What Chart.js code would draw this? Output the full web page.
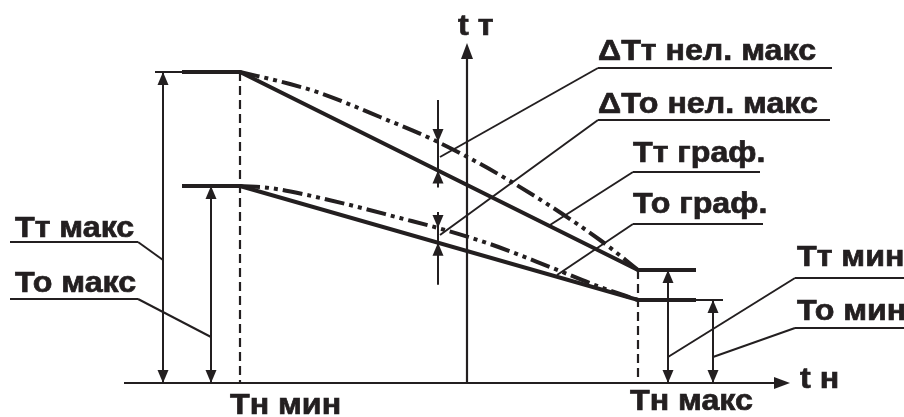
<!DOCTYPE html>
<html>
<head>
  <meta charset="utf-8">
  <title>Температурный график</title>
  <script src="https://cdn.jsdelivr.net/npm/chart.js@4.4.0/dist/chart.umd.min.js"></script>
  <style>
    body { margin: 0; background: #fff; }
    #wrap { width: 904px; height: 417px; }
  </style>
</head>
<body>
  <div id="wrap"><canvas id="graph" width="904" height="417"></canvas></div>
  <script>
    // outdoor temperature (x) and water temperatures (y), diagram units
    const tnValues = [-227, 171];          // Тн мин, Тн макс
    const tnLabels = ['Тн мин', 'Тн макс'];
    const ttValues = [311, 113];           // Тт макс, Тт мин
    const toValues = [197, 83];            // То макс, То мин
    const ttNonlinX = [-227, -177, -147, -87, -29, 43, 133, 171];
    const ttNonlinY = [311, 299, 290, 266, 241, 202, 143, 113];
    const toNonlinX = [-227, -197, -160, -117, -67, -29, 23, 83, 133, 171];
    const toNonlinY = [197, 195, 188, 178, 165, 155, 139, 116, 96, 83];
    const measureX = -29;                  // where the nonlinear deviation is measured

    // drawing layout (not data)
    const shelf = [-285, 229];
    const axisX = [-343, 323];
    const axisY = [0, 340];
    const ink = '#231f20';

    const pts = (xs, ys) => xs.map((x, i) => ({ x, y: ys[i] }));
    const lerp = (xs, ys, x) => ys[0] + (ys[1] - ys[0]) * (x - xs[0]) / (xs[1] - xs[0]);

    const labels = [
      { text: 'ΔТт нел. макс', x: 131, y: 323, u: [131, 365, 315], lead: [-27, 226], side: 0 },
      { text: 'ΔТо нел. макс', x: 131, y: 270, u: [131, 363, 263], lead: [-27, 148], side: 0 },
      { text: 'Тт граф.', x: 166, y: 221, u: [166, 293, 211], lead: [83, 158], side: 0 },
      { text: 'То граф.', x: 166, y: 170, u: [166, 296, 159], lead: [90, 108], side: 0 },
      { text: 'Тт макс', x: -452, y: 146, u: [-457, -329, 141], lead: [-304, 123], side: 1 },
      { text: 'То макс', x: -452, y: 91, u: [-457, -329, 84], lead: [-256, 46], side: 1 },
      { text: 'Тт мин', x: 330, y: 117, u: [328, 437, 105], lead: [201, 26], side: 0 },
      { text: 'То мин', x: 330, y: 63, u: [328, 437, 55], lead: [246, 26], side: 0 }
    ];
    const dims = [
      { x: -304, top: ttValues[0] },
      { x: -256, top: toValues[0] },
      { x: 201, top: ttValues[1] },
      { x: 246, top: toValues[1] }
    ];

    function head(ctx, x, y, dir, len, half) {
      ctx.beginPath();
      ctx.moveTo(x, y);
      if (dir === 'up') { ctx.lineTo(x - half, y + len); ctx.lineTo(x + half, y + len); }
      if (dir === 'down') { ctx.lineTo(x - half, y - len); ctx.lineTo(x + half, y - len); }
      if (dir === 'right') { ctx.lineTo(x - len, y - half); ctx.lineTo(x - len, y + half); }
      ctx.closePath();
      ctx.fill();
    }

    // the lettering is a bit wider and heavier than plain Arial bold
    function label(ctx, text, x, y) {
      ctx.save();
      ctx.translate(x, y);
      ctx.scale(1.11, 1);
      ctx.lineWidth = 0.7;
      ctx.fillText(text, 0, 0);
      ctx.strokeText(text, 0, 0);
      ctx.restore();
    }

    const annotations = {
      id: 'annotations',
      afterDatasetsDraw(chart) {
        const ctx = chart.ctx;
        const X = v => chart.scales.x.getPixelForValue(v);
        const Y = v => chart.scales.y.getPixelForValue(v);
        ctx.save();
        ctx.strokeStyle = ink;
        ctx.fillStyle = ink;
        ctx.lineCap = 'butt';

        // axis arrowheads
        head(ctx, X(axisX[1]), Y(0), 'right', 16, 6);
        head(ctx, X(0), Y(axisY[1]), 'up', 16, 6);

        // dimension arrows
        ctx.lineWidth = 2;
        dims.forEach(d => {
          ctx.beginPath();
          ctx.moveTo(X(d.x), Y(0));
          ctx.lineTo(X(d.x), Y(d.top));
          ctx.stroke();
          head(ctx, X(d.x), Y(d.top), 'up', 13, 5.5);
          head(ctx, X(d.x), Y(0), 'down', 13, 5.5);
        });

        // nonlinearity measurement
        const i = ttNonlinX.indexOf(measureX);
        const j = toNonlinX.indexOf(measureX);
        const pairs = [
          [ttNonlinY[i], lerp(tnValues, ttValues, measureX), 42, 17],
          [toNonlinY[j], lerp(tnValues, toValues, measureX), 16, 42]
        ];
        pairs.forEach(([hi, lo, above, below]) => {
          const x = X(measureX);
          ctx.beginPath();
          ctx.moveTo(x, Y(hi + above));
          ctx.lineTo(x, Y(lo - below));
          ctx.stroke();
          head(ctx, x, Y(hi), 'down', 13, 5.5);
          head(ctx, x, Y(lo), 'up', 13, 5.5);
        });

        // leaders, underlines and texts
        ctx.font = 'bold 29px "Liberation Sans", Arial, sans-serif';
        ctx.textBaseline = 'alphabetic';
        labels.forEach(l => {
          ctx.lineWidth = 2;
          ctx.beginPath();
          ctx.moveTo(X(l.u[0]), Y(l.u[2]));
          ctx.lineTo(X(l.u[1]), Y(l.u[2]));
          ctx.stroke();
          ctx.beginPath();
          ctx.moveTo(X(l.u[l.side]), Y(l.u[2]));
          ctx.lineTo(X(l.lead[0]), Y(l.lead[1]));
          ctx.stroke();
          label(ctx, l.text, X(l.x), Y(l.y));
        });

        // extension lines
        ctx.lineWidth = 2;
        ctx.beginPath();
        ctx.moveTo(X(-312), Y(ttValues[0]));
        ctx.lineTo(X(shelf[0]), Y(ttValues[0]));
        ctx.moveTo(X(shelf[1]), Y(toValues[1]));
        ctx.lineTo(X(256), Y(toValues[1]));
        ctx.stroke();

        // axis titles and ticks
        label(ctx, 't т', X(-9), Y(348));
        label(ctx, 't н', X(333), Y(-5));
        label(ctx, tnLabels[0], X(-237), Y(-31));
        label(ctx, tnLabels[1], X(163), Y(-27));
        ctx.restore();
      }
    };

    const solid = (data) => ({
      data, showLine: true, borderColor: ink, borderWidth: 4, pointRadius: 0, tension: 0
    });
    const dashDot = (data) => ({
      data, showLine: true, borderColor: ink, borderWidth: 4, pointRadius: 0,
      cubicInterpolationMode: 'monotone', borderDash: [20, 5, 4, 5, 4, 5]
    });
    const thin = (data, dash) => ({
      data, showLine: true, borderColor: ink, borderWidth: 2.2, pointRadius: 0, borderDash: dash || []
    });

    new Chart(document.getElementById('graph'), {
      type: 'scatter',
      data: {
        datasets: [
          solid([{ x: shelf[0], y: ttValues[0] }, { x: tnValues[0], y: ttValues[0] },
                 { x: tnValues[1], y: ttValues[1] }, { x: shelf[1], y: ttValues[1] }]),
          solid([{ x: shelf[0], y: toValues[0] }, { x: tnValues[0], y: toValues[0] },
                 { x: tnValues[1], y: toValues[1] }, { x: shelf[1], y: toValues[1] }]),
          dashDot(pts(ttNonlinX, ttNonlinY)),
          dashDot(pts(toNonlinX, toNonlinY)),
          thin([{ x: tnValues[0], y: ttValues[0] }, { x: tnValues[0], y: 0 }], [9, 5]),
          thin([{ x: tnValues[1], y: ttValues[1] }, { x: tnValues[1], y: 0 }], [9, 5]),
          thin([{ x: axisX[0], y: 0 }, { x: axisX[1] - 10, y: 0 }]),
          thin([{ x: 0, y: axisY[0] }, { x: 0, y: axisY[1] - 10 }])
        ]
      },
      options: {
        responsive: false,
        animation: false,
        layout: { padding: 0 },
        plugins: { legend: { display: false }, tooltip: { enabled: false } },
        scales: {
          x: { type: 'linear', min: -467, max: 437, display: false },
          y: { type: 'linear', min: -34, max: 383, display: false }
        }
      },
      plugins: [annotations]
    });
  </script>
</body>
</html>
